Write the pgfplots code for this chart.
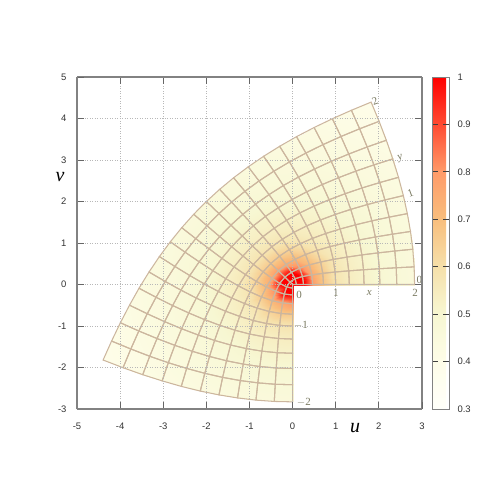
\documentclass[border=0pt]{standalone}
\usepackage{pgfplots}
\usepackage{pgfplotstable}
\usepackage{fontspec}
\pgfplotsset{compat=1.18}
\setmainfont{Liberation Sans}
\newfontfamily\serif{Liberation Serif}
\definecolor{meshtan}{RGB}{204,182,158}
\definecolor{lab}{RGB}{120,120,95}
\definecolor{frame}{RGB}{130,130,130}
\newcommand{\lbl}[1]{\serif\fontsize{11}{11}\selectfont\color{lab}#1}
\pgfplotsset{colormap={tanmap}{color=(meshtan) color=(meshtan)}}
\pgfplotstableread{
u v c
0 -2.828 .459
0 -2.415 .475
0 -2.024 .496
0 -1.657 .52
0 -1.315 .545
0 -1 .585
0 -.716 .67
0 -.465 .80
0 -.253 1
0 -.089 1
0 0 1
.089 0 1
.253 0 1
.465 0 .80
.716 0 .67
1 0 .585
1.315 0 .545
1.657 0 .52
2.024 0 .496
2.415 0 .475
2.828 0 .459
-.425 -2.818 .458
-.403 -2.404 .474
-.380 -2.012 .495
-.355 -1.644 .519
-.329 -1.301 .542
-.301 -.985 .58
-.269 -.699 .665
-.233 -.446 .77
-.192 -.230 1
-.139 -.058 1
-.063 .063 1
.058 .139 1
.230 .192 1
.446 .233 .77
.699 .269 .665
.985 .301 .58
1.301 .329 .542
1.644 .355 .519
2.012 .380 .495
2.404 .403 .474
2.818 .425 .458
-.850 -2.786 .456
-.807 -2.370 .472
-.761 -1.977 .491
-.713 -1.606 .514
-.660 -1.260 .535
-.604 -.941 .57
-.542 -.650 .64
-.473 -.389 .72
-.393 -.163 .84
-.298 .027 1
-.179 .179 1
-.027 .298 1
.163 .393 .84
.389 .473 .72
.650 .542 .64
.941 .604 .57
1.260 .660 .535
1.606 .713 .514
1.977 .761 .491
2.370 .807 .472
2.786 .850 .456
-1.278 -2.733 .452
-1.213 -2.315 .467
-1.145 -1.918 .485
-1.073 -1.544 .505
-.996 -1.194 .528
-.913 -.868 .55
-.822 -.569 .585
-.722 -.299 .66
-.610 -.059 .72
-.480 .151 .77
-.329 .329 .80
-.151 .480 .77
.059 .610 .72
.299 .722 .66
.569 .822 .585
.868 .913 .55
1.194 .996 .528
1.544 1.073 .505
1.918 1.145 .485
2.315 1.213 .467
2.733 1.278 .452
-1.708 -2.660 .447
-1.623 -2.238 .462
-1.533 -1.838 .477
-1.438 -1.458 .495
-1.337 -1.101 .515
-1.229 -.768 .533
-1.112 -.460 .555
-.984 -.179 .585
-.843 .076 .64
-.684 .304 .665
-.506 .506 .67
-.304 .684 .665
-.076 .843 .64
.179 .984 .585
.460 1.112 .555
.768 1.229 .533
1.101 1.337 .515
1.458 1.438 .495
1.838 1.533 .477
2.238 1.623 .462
2.660 1.708 .447
-2.142 -2.568 .441
-2.037 -2.140 .455
-1.927 -1.734 .468
-1.810 -1.348 .484
-1.686 -.985 .50
-1.554 -.644 .519
-1.412 -.326 .533
-1.259 -.032 .55
-1.092 .238 .57
-.909 .484 .58
-.707 .707 .585
-.484 .909 .58
-.238 1.092 .57
.032 1.259 .55
.326 1.412 .533
.644 1.554 .519
.985 1.686 .50
1.348 1.810 .484
1.734 1.927 .468
2.140 2.037 .455
2.568 2.142 .441
-2.582 -2.455 .434
-2.457 -2.022 .446
-2.326 -1.609 .459
-2.188 -1.218 .472
-2.042 -.846 .486
-1.889 -.496 .50
-1.724 -.167 .515
-1.549 .140 .528
-1.358 .424 .535
-1.153 .687 .542
-.929 .929 .545
-.687 1.153 .542
-.424 1.358 .535
-.140 1.549 .528
.167 1.724 .515
.496 1.889 .50
.846 2.042 .486
1.218 2.188 .472
1.609 2.326 .459
2.022 2.457 .446
2.455 2.582 .434
-3.026 -2.322 .426
-2.882 -1.885 .438
-2.732 -1.466 .449
-2.574 -1.066 .461
-2.408 -.686 .472
-2.233 -.327 .484
-2.048 .014 .495
-1.850 .333 .505
-1.640 .631 .514
-1.414 .911 .519
-1.171 1.171 .52
-.911 1.414 .519
-.631 1.640 .514
-.333 1.850 .505
-.014 2.048 .495
.327 2.233 .484
.686 2.408 .472
1.066 2.574 .461
1.466 2.732 .449
1.885 2.882 .438
2.322 3.026 .426
-3.476 -2.173 .415
-3.314 -1.729 .428
-3.144 -1.302 .439
-2.968 -.895 .449
-2.782 -.507 .459
-2.589 -.136 .468
-2.384 .216 .477
-2.166 .547 .485
-1.936 .860 .491
-1.691 1.154 .495
-1.431 1.431 .496
-1.154 1.691 .495
-.860 1.936 .491
-.547 2.166 .485
-.216 2.384 .477
.136 2.589 .468
.507 2.782 .459
.895 2.968 .449
1.302 3.144 .439
1.729 3.314 .428
2.173 3.476 .415
-3.932 -2.005 .405
-3.752 -1.554 .416
-3.566 -1.121 .428
-3.371 -.705 .438
-3.167 -.308 .446
-2.954 .073 .455
-2.730 .435 .462
-2.495 .779 .467
-2.246 1.105 .472
-1.985 1.415 .474
-1.708 1.708 .475
-1.415 1.985 .474
-1.105 2.246 .472
-.779 2.495 .467
-.435 2.730 .462
-.073 2.954 .455
.308 3.167 .446
.705 3.371 .438
1.121 3.566 .428
1.554 3.752 .416
2.005 3.932 .405
-4.395 -1.820 .395
-4.198 -1.363 .405
-3.994 -.921 .415
-3.782 -.498 .426
-3.562 -.090 .434
-3.330 .301 .441
-3.089 .673 .447
-2.836 1.029 .452
-2.571 1.369 .456
-2.293 1.692 .458
-2 2 .459
-1.692 2.293 .458
-1.369 2.571 .456
-1.029 2.836 .452
-.673 3.089 .447
-.301 3.330 .441
.090 3.562 .434
.498 3.782 .426
.921 3.994 .415
1.363 4.198 .405
1.820 4.395 .395
}\gridtable
\begin{document}
\begin{tikzpicture}[x=1bp,y=1bp]
\useasboundingbox (-77bp,-91bp) rectangle (423bp,409bp);
\begin{axis}[
  view={0}{90},
  scale only axis,width=345bp,height=332bp,
  xmin=-5,xmax=3,ymin=-3,ymax=5,zmin=-1,zmax=1,
  xtick={-5,...,3},ytick={-3,...,5},ztick=\empty,
  grid=major,grid style={black!28,line width=.8bp,dash pattern=on .8bp off 1.7bp},
  axis on top,clip=false,
  axis line style={frame,line width=1.3bp},
  tick align=inside,major tick length=7bp,
  tick style={black!60,line width=.9bp},
  tick label style={font=\fontsize{9.5}{10}\selectfont,black!80},
  /pgf/number format/assume math mode=true,
  xticklabel style={yshift=-10bp},yticklabel style={xshift=-7bp},
  xlabel={\serif\itshape\fontsize{20}{20}\selectfont u},
  ylabel={\serif\itshape\fontsize{20}{20}\selectfont v},
  xlabel style={at={(rel axis cs:.806,-.057)},anchor=center},
  ylabel style={at={(rel axis cs:-.049,.70)},anchor=center,rotate=-90},
  colormap={paleheat}{rgb255=(255,255,250) rgb255=(254,253,232) rgb255=(247,247,210)
    rgb255=(246,224,170) rgb255=(248,190,125) rgb255=(255,155,105) rgb255=(255,75,50) rgb255=(255,0,0)},
  point meta min=.3,point meta max=1,
  colorbar,
  colorbar style={
    at={(1.029,1)},anchor=north west,scale only axis,width=17bp,height=332bp,
    ytick={.3,.4,.5,.6,.7,.8,.9,1},
    yticklabels={0.3,0.4,0.5,0.6,0.7,0.8,0.9,1},
    ytick pos=both,yticklabel pos=right,
    major tick length=6bp,tick align=inside,grid=none,
    tick style={black!75,line width=.9bp},
    axis line style={frame,line width=1bp},
    yticklabel style={xshift=5bp},
  },
]
\addplot3[surf,shader=interp,mesh/rows=11,mesh/cols=21,point meta=explicit]
  table[x=u,y=v,z expr=0,meta=c] {\gridtable};
\addplot3[mesh,colormap name=tanmap,line width=1.05bp,mesh/rows=11,mesh/cols=21,point meta=explicit]
  table[x=u,y=v,z expr=0,meta=c] {\gridtable};
\node at (axis cs:.15,-.24,0) {\lbl{0}};
\node at (axis cs:1,-.2,0) {\lbl{1}};
\node at (axis cs:1.78,-.2,0) {\lbl{\itshape x}};
\node at (axis cs:2.84,-.2,0) {\lbl{2}};
\node at (axis cs:2.94,.1,0) {\lbl{0}};
\node[rotate=20] at (axis cs:2.73,2.19,0) {\lbl{1}};
\node[rotate=20] at (axis cs:2.5,3.05,0) {\lbl{\itshape y}};
\node[rotate=20] at (axis cs:1.91,4.43,0) {\lbl{2}};
\node at (axis cs:.19,-.99,0) {\lbl{$-$1}};
\node at (axis cs:.26,-2.85,0) {\lbl{$-$2}};
\end{axis}
\end{tikzpicture}
\end{document}
